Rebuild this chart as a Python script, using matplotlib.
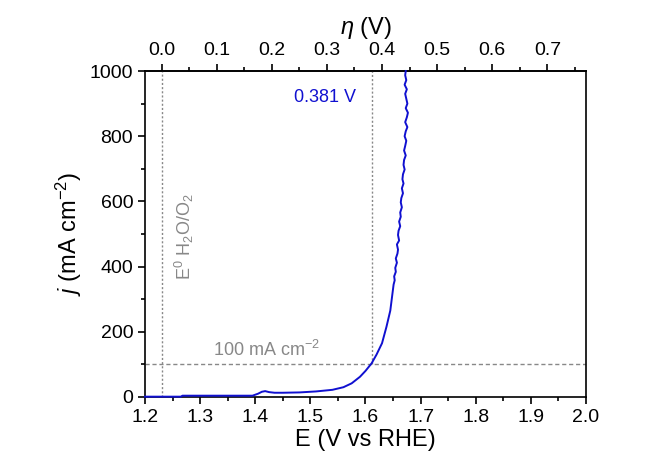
import matplotlib
matplotlib.use("Agg")
import matplotlib.pyplot as plt
from matplotlib.ticker import MultipleLocator

# ===========================
# DATA
# ===========================
E_REV = 1.23          # E0 H2O/O2 (V vs RHE)
E_100 = 1.611         # potential at 100 mA cm-2
J_REF = 100

E = [1.200, 1.265, 1.268, 1.300, 1.350, 1.395, 1.405, 1.412, 1.418, 1.425,
     1.435, 1.450, 1.480, 1.510, 1.540, 1.560, 1.575, 1.590, 1.600, 1.611,
     1.620, 1.630, 1.638, 1.645, 1.651,
     1.653, 1.652, 1.655, 1.654, 1.657, 1.655, 1.658, 1.659, 1.657, 1.661,
     1.659, 1.660, 1.663, 1.661, 1.664, 1.663, 1.666, 1.664, 1.665, 1.668,
     1.666, 1.669, 1.667, 1.668, 1.671, 1.669, 1.670, 1.673, 1.670, 1.672,
     1.674, 1.671, 1.673, 1.676, 1.672, 1.675, 1.677, 1.673, 1.676, 1.674,
     1.672, 1.675, 1.671, 1.674, 1.672, 1.673]
j = [1, 1, 4, 4, 4, 4, 10, 16, 18, 15,
     13, 13, 14, 17, 22, 30, 42, 62, 80, 103,
     130, 165, 215, 265, 345,
     358, 370, 384, 396, 412, 425, 440, 452, 468, 480,
     497, 510, 524, 538, 553, 566, 582, 597, 610, 625,
     640, 655, 668, 683, 698, 712, 727, 741, 756, 770,
     786, 800, 815, 828, 843, 858, 872, 886, 900, 915,
     930, 944, 958, 972, 987, 1000]

x_ticks = [1.2, 1.3, 1.4, 1.5, 1.6, 1.7, 1.8, 1.9, 2.0]
y_ticks = [0, 200, 400, 600, 800, 1000]
eta_ticks = [0.0, 0.1, 0.2, 0.3, 0.4, 0.5, 0.6, 0.7]

# ===========================
# STYLE
# ===========================
plt.rcParams["font.family"] = ["Liberation Sans", "DejaVu Sans"]
plt.rcParams["mathtext.fontset"] = "custom"
plt.rcParams["mathtext.rm"] = "Liberation Sans"
plt.rcParams["mathtext.it"] = "Liberation Sans:italic"
plt.rcParams["axes.linewidth"] = 1.2

CURVE = "#1010d0"
GREY = "#888888"

fig = plt.figure(figsize=(6.45, 4.59), dpi=100)
ax = fig.add_axes([0.2248, 0.1351, 0.6837, 0.7102])

ax.plot(E, j, color=CURVE, lw=1.4, clip_on=False, zorder=3)

# reference lines
ax.axvline(E_REV, color=GREY, ls=(0, (1.5, 1.5)), lw=1.0)
ax.axhline(J_REF, color=GREY, ls=(0, (3, 2)), lw=1.0)
ax.plot([E_100, E_100], [J_REF, 1000], color=GREY, ls=(0, (1.5, 1.5)), lw=1.0)

# annotations
ax.text(1.583, 920, "%.3f V" % (E_100 - E_REV), color=CURVE, fontsize=13,
        ha="right", va="center")
ax.text(1.323, 126, r"100 mA cm$^{-2}$", color=GREY, fontsize=13,
        ha="left", va="baseline")
ax.text(1.250, 360, r"E$^0$ H$_2$O/O$_2$", color=GREY, fontsize=13,
        rotation=90, ha="left", va="bottom")

ax.set_xlim(1.2, 2.0)
ax.set_ylim(0, 1000)
ax.set_xticks(x_ticks)
ax.set_yticks(y_ticks)
ax.xaxis.set_minor_locator(MultipleLocator(0.05))
ax.yaxis.set_minor_locator(MultipleLocator(100))
ax.tick_params(which="both", direction="out", width=1.2, labelsize=14,
               top=False, right=False)
ax.tick_params(which="major", length=5)
ax.tick_params(which="minor", length=3)

ax.set_xlabel("E (V vs RHE)", fontsize=17, labelpad=2)
ax.set_ylabel(r"$j$ (mA cm$^{-2}$)", fontsize=17, labelpad=4)

# overpotential axis on top
top = ax.secondary_xaxis("top", functions=(lambda x: x - E_REV, lambda x: x + E_REV))
top.set_xticks(eta_ticks)
top.xaxis.set_minor_locator(MultipleLocator(0.05))
top.tick_params(which="both", direction="out", width=1.2, labelsize=14)
top.tick_params(which="major", length=5)
top.tick_params(which="minor", length=3)
top.set_xlabel(r"$\eta$ (V)", fontsize=17, labelpad=6)

fig.savefig("out.png", dpi=100)
